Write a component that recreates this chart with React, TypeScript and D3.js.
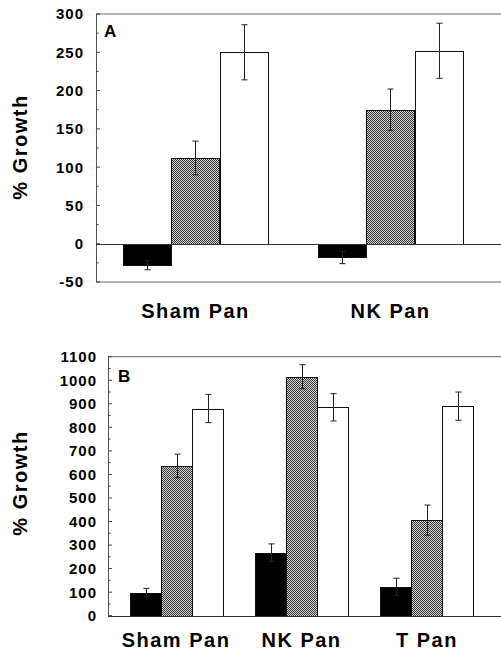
import React, { useEffect, useRef } from "react";
import * as d3 from "d3";

// series: black = first, stippled = second, white = third
const seriesKeys = ["s1", "s2", "s3"];

const groupsA = ["Sham Pan", "NK Pan"];
const valuesA = [
  [-28, 112, 250],
  [-18, 175, 252],
];
const errorsA = [
  [6, 22, 36],
  [8, 27, 36],
];
const ticksA = [-50, 0, 50, 100, 150, 200, 250, 300];

const groupsB = ["Sham Pan", "NK Pan", "T Pan"];
const valuesB = [
  [98, 636, 880],
  [268, 1015, 885],
  [123, 406, 890],
];
const errorsB = [
  [18, 50, 60],
  [37, 51, 58],
  [36, 64, 60],
];
const ticksB = [0, 100, 200, 300, 400, 500, 600, 700, 800, 900, 1000, 1100];

const FONT = "'Liberation Sans', Arial, Helvetica, sans-serif";

type Panel = {
  letter: string;
  groups: string[];
  values: number[][];
  errors: number[][];
  ticks: number[];
  minorStep: number;
  domain: [number, number];
  yRange: [number, number];
  xLeft: number;
  xRange: [number, number];
  padInner: number;
  padOuter: number;
  labelRight: number;
  titleY: number;
  catBaseline: number;
  letterPos: [number, number];
};

const panels: Panel[] = [
  {
    letter: "A",
    groups: groupsA,
    values: valuesA,
    errors: errorsA,
    ticks: ticksA,
    minorStep: 25,
    domain: [-50, 300],
    yRange: [282, 14],
    xLeft: 96,
    xRange: [98, 488],
    padInner: 0.256,
    padOuter: 0.128,
    labelRight: 84,
    titleY: 147,
    catBaseline: 318,
    letterPos: [104, 37],
  },
  {
    letter: "B",
    groups: groupsB,
    values: valuesB,
    errors: errorsB,
    ticks: ticksB,
    minorStep: 50,
    domain: [0, 1100],
    yRange: [615.7, 356.7],
    xLeft: 108,
    xRange: [110.7, 492.3],
    padInner: 0.259,
    padOuter: 0.15,
    labelRight: 97,
    titleY: 483,
    catBaseline: 647,
    letterPos: [118, 382],
  },
];

export default function App() {
  const svgRef = useRef<SVGSVGElement>(null);

  useEffect(() => {
    const svg = d3.select(svgRef.current);
    svg.selectAll("*").remove();

    // stipple pattern for the middle bars
    const pat = svg
      .append("defs")
      .append("pattern")
      .attr("id", "stipple")
      .attr("patternUnits", "userSpaceOnUse")
      .attr("width", 2)
      .attr("height", 2);
    pat.append("rect").attr("width", 2).attr("height", 2).attr("fill", "#d0d0d0");
    pat.append("rect").attr("width", 1).attr("height", 1).attr("fill", "#3a3a3a");
    pat.append("rect").attr("x", 1).attr("y", 1).attr("width", 1).attr("height", 1).attr("fill", "#3a3a3a");

    const fills = ["#000", "url(#stipple)", "#fff"];

    panels.forEach((p) => {
      const g = svg.append("g");
      const y = d3.scaleLinear().domain(p.domain).range(p.yRange);
      const x0 = d3
        .scaleBand()
        .domain(p.groups)
        .range(p.xRange)
        .paddingInner(p.padInner)
        .paddingOuter(p.padOuter);
      const x1 = d3.scaleBand().domain(seriesKeys).range([0, x0.bandwidth()]);
      const bx = (gi: number, si: number) =>
        Math.round(x0(p.groups[gi])! + x1(seriesKeys[si])!) + 0.5;
      const bw = Math.round(x1.bandwidth());
      const py = (v: number) => Math.round(y(v)) + 0.5;

      // frame: top line and (for A) bottom line
      g.append("line")
        .attr("x1", p.xLeft)
        .attr("x2", 501)
        .attr("y1", y(p.domain[1]))
        .attr("y2", y(p.domain[1]))
        .attr("stroke", "#666")
        .attr("stroke-width", 1);
      if (p.domain[0] < 0) {
        g.append("line")
          .attr("x1", p.xLeft)
          .attr("x2", 501)
          .attr("y1", y(p.domain[0]))
          .attr("y2", y(p.domain[0]))
          .attr("stroke", "#666")
          .attr("stroke-width", 1);
      }

      // y axis line
      g.append("line")
        .attr("x1", p.xLeft + 0.5)
        .attr("x2", p.xLeft + 0.5)
        .attr("y1", y(p.domain[0]))
        .attr("y2", y(p.domain[1]))
        .attr("stroke", "#555")
        .attr("stroke-width", 1);

      // inner ticks (major + minor)
      const minor = d3.range(p.domain[0], p.domain[1] + 0.1, p.minorStep);
      g.selectAll(".tk")
        .data(minor)
        .join("line")
        .attr("x1", p.xLeft)
        .attr("x2", (d) => p.xLeft + (p.ticks.includes(d) ? 4 : 2.5))
        .attr("y1", (d) => y(d))
        .attr("y2", (d) => y(d))
        .attr("stroke", "#444")
        .attr("stroke-width", 1);

      // tick labels
      g.selectAll(".tl")
        .data(p.ticks)
        .join("text")
        .attr("x", p.labelRight)
        .attr("y", (d) => y(d))
        .attr("dy", "0.36em")
        .attr("text-anchor", "end")
        .attr("font-family", FONT)
        .attr("font-weight", "bold")
        .attr("font-size", 15)
        .attr("letter-spacing", 1)
        .text((d) => String(d));

      // bars
      const bars = p.values.flatMap((row, gi) =>
        row.map((v, si) => ({ v, e: p.errors[gi][si], gi, si }))
      );
      g.selectAll(".bar")
        .data(bars)
        .join("rect")
        .attr("x", (d) => bx(d.gi, d.si))
        .attr("width", bw)
        .attr("y", (d) => Math.min(py(d.v), py(0)))
        .attr("height", (d) => Math.abs(py(d.v) - py(0)))
        .attr("fill", (d) => fills[d.si])
        .attr("stroke", "#111")
        .attr("stroke-width", 1);

      // zero line
      g.append("line")
        .attr("x1", p.xLeft)
        .attr("x2", 501)
        .attr("y1", py(0))
        .attr("y2", py(0))
        .attr("stroke", "#333")
        .attr("stroke-width", 1);

      // error bars
      const cx = (d: { gi: number; si: number }) => bx(d.gi, d.si) + Math.round(bw / 2);
      const eb = g.selectAll(".eb").data(bars).join("g");
      eb.append("line")
        .attr("x1", cx)
        .attr("x2", cx)
        .attr("y1", (d) => y(d.v - d.e))
        .attr("y2", (d) => y(d.v + d.e))
        .attr("stroke", "#222")
        .attr("stroke-width", 1);
      [-1, 1].forEach((s) => {
        eb.append("line")
          .attr("x1", (d) => cx(d) - 3)
          .attr("x2", (d) => cx(d) + 3)
          .attr("y1", (d) => y(d.v + s * d.e))
          .attr("y2", (d) => y(d.v + s * d.e))
          .attr("stroke", "#222")
          .attr("stroke-width", 1);
      });

      // category labels
      g.selectAll(".cat")
        .data(p.groups)
        .join("text")
        .attr("x", (d) => x0(d)! + x0.bandwidth() / 2)
        .attr("y", p.catBaseline)
        .attr("text-anchor", "middle")
        .attr("font-family", FONT)
        .attr("font-weight", "bold")
        .attr("font-size", 20)
        .attr("letter-spacing", 1.5)
        .text((d) => d);

      // y title
      g.append("text")
        .attr("transform", `translate(27,${p.titleY}) rotate(-90)`)
        .attr("text-anchor", "middle")
        .attr("font-family", FONT)
        .attr("font-weight", "bold")
        .attr("font-size", 20)
        .attr("letter-spacing", 1.5)
        .text("% Growth");

      // panel letter
      g.append("text")
        .attr("x", p.letterPos[0])
        .attr("y", p.letterPos[1])
        .attr("font-family", FONT)
        .attr("font-weight", "bold")
        .attr("font-size", 17)
        .text(p.letter);
    });
  }, []);

  return (
    <svg
      ref={svgRef}
      width={501}
      height={654}
      style={{ position: "absolute", left: 0, top: 0, background: "#fff" }}
    />
  );
}
